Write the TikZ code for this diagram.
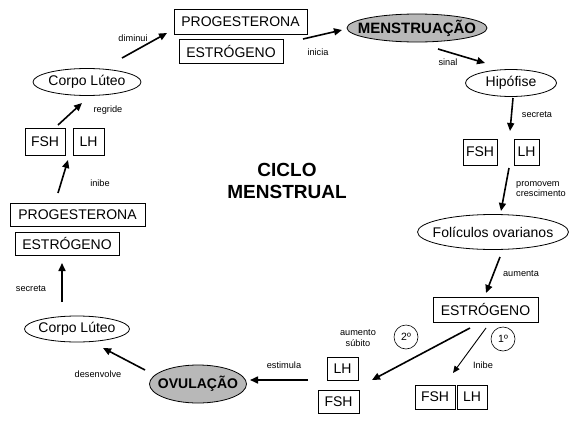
\documentclass[tikz,border=0pt]{standalone}
\usepackage{fontspec}
\setmainfont{Liberation Sans}
\usetikzlibrary{arrows.meta,shapes.geometric}
\begin{document}
\begin{tikzpicture}[x=1pt,y=-1pt,
  box/.style={draw,line width=0.8pt,inner sep=0pt,font=\fontsize{14}{16}\selectfont},
  oval/.style={draw,ellipse,line width=0.8pt,inner xsep=-40pt,inner ysep=-8pt,font=\fontsize{14}{16}\selectfont},
  grayoval/.style={oval,fill=black!28,font=\fontsize{14}{16}\selectfont\bfseries},
  lbl/.style={inner sep=0pt,font=\fontsize{9.2}{10.5}\selectfont},
  num/.style={draw,circle,line width=0.6pt,minimum size=24pt,inner sep=0pt,font=\fontsize{10.5}{12}\selectfont},
  arr/.style={line width=1.6pt,-{Triangle[length=8pt,width=7pt]}},
  thinarr/.style={line width=0.9pt,-{Triangle[length=7pt,width=6pt]}}
]
\useasboundingbox (0,0) rectangle (572,423);
% nodes
\node[box,minimum width=133pt,minimum height=25pt] (progT) at (240.5,21.5) {PROGESTERONA};
\node[box,minimum width=104pt,minimum height=24pt] (estT) at (231,51) {ESTRÓGENO};
\node[grayoval,minimum width=140pt,minimum height=28pt,font=\fontsize{15}{16}\selectfont\bfseries] (menst) at (417,28) {MENSTRUAÇÃO};
\node[oval,minimum width=91pt,minimum height=27pt] (hip) at (511,83) {Hipófise};
\node[box,minimum width=34pt,minimum height=26pt] (fshR) at (480,152) {FSH};
\node[box,minimum width=25pt,minimum height=26pt] (lhR) at (526.5,152) {LH};
\node[oval,minimum width=151pt,minimum height=35pt] (fol) at (493,232) {Folículos ovarianos};
\node[box,minimum width=105pt,minimum height=25pt] (estR) at (485.5,309.5) {ESTRÓGENO};
\node[num] (c2) at (406,337) {2º};
\node[num] (c1) at (503,339) {1º};
\node[box,minimum width=31pt,minimum height=23pt] (lhM) at (342.5,368.5) {LH};
\node[box,minimum width=41pt,minimum height=23pt] (fshM) at (338.5,401.5) {FSH};
\node[box,minimum width=40pt,minimum height=24pt] (fshB) at (435,397) {FSH};
\node[box,minimum width=30pt,minimum height=24pt] (lhB) at (472,397) {LH};
\node[grayoval,minimum width=97pt,minimum height=38pt] (ovu) at (198,384) {OVULAÇÃO};
\node[oval,minimum width=105pt,minimum height=26pt] (corpoB) at (77,329) {Corpo Lúteo};
\node[box,minimum width=104pt,minimum height=23pt] (estL) at (67,243.5) {ESTRÓGENO};
\node[box,minimum width=135pt,minimum height=23pt] (progL) at (77.5,214.5) {PROGESTERONA};
\node[box,minimum width=40pt,minimum height=27pt] (fshL) at (45,141.5) {FSH};
\node[box,minimum width=31pt,minimum height=27pt] (lhL) at (88.5,141.5) {LH};
\node[oval,minimum width=108pt,minimum height=27pt] (corpoT) at (87,82) {Corpo Lúteo};
\node[align=center,inner sep=0pt,font=\fontsize{19}{22.5}\selectfont\bfseries] (title) at (287,181) {CICLO\\MENSTRUAL};
% arrow end points
\coordinate (a1s) at (122,58);  \coordinate (a1e) at (167,33);
\coordinate (a2s) at (303,39);  \coordinate (a2e) at (342,30);
\coordinate (a3s) at (438,49);  \coordinate (a3e) at (485,63);
\coordinate (a4s) at (513,98);  \coordinate (a4e) at (510,131);
\coordinate (a5s) at (509,168); \coordinate (a5e) at (501,211);
\coordinate (a6s) at (500,257); \coordinate (a6e) at (486,293);
\coordinate (a7s) at (470,328); \coordinate (a7e) at (372,380);
\coordinate (a8s) at (486,328); \coordinate (a8e) at (453,373);
\coordinate (a9s) at (308,380); \coordinate (a9e) at (250,380);
\coordinate (a10s) at (145,370); \coordinate (a10e) at (103,348);
\coordinate (a11s) at (62,302); \coordinate (a11e) at (62,263);
\coordinate (a12s) at (58,193); \coordinate (a12e) at (68,160);
\coordinate (a13s) at (58,125); \coordinate (a13e) at (82,103);
% arrows
\draw[arr] (a1s) -- (a1e);
\draw[arr] (a2s) -- (a2e);
\draw[arr] (a3s) -- (a3e);
\draw[arr] (a4s) -- (a4e);
\draw[arr] (a5s) -- (a5e);
\draw[arr] (a6s) -- (a6e);
\draw[arr] (a7s) -- (a7e);
\draw[thinarr] (a8s) -- (a8e);
\draw[arr] (a9s) -- (a9e);
\draw[arr] (a10s) -- (a10e);
\draw[arr] (a11s) -- (a11e);
\draw[arr] (a12s) -- (a12e);
\draw[arr] (a13s) -- (a13e);
% labels
\node[lbl] (l1) at (133,38) {diminui};
\node[lbl] (l2) at (318,52) {inicia};
\node[lbl] (l3) at (448,62) {sinal};
\node[lbl] (l4) at (537,115) {secreta};
\node[lbl,align=left,anchor=west] (l5) at (516,189) {promovem\\crescimento};
\node[lbl] (l6) at (521,274) {aumenta};
\node[lbl,align=center] (l7) at (358,338) {aumento\\súbito};
\node[lbl] (l8) at (483,365) {Inibe};
\node[lbl] (l9) at (284,365) {estimula};
\node[lbl] (l10) at (98,374) {desenvolve};
\node[lbl] (l11) at (31,289) {secreta};
\node[lbl] (l12) at (100,183) {inibe};
\node[lbl] (l13) at (108,110) {regride};
\end{tikzpicture}
\end{document}
